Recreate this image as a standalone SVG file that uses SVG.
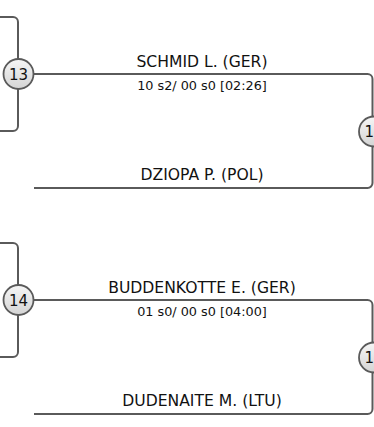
<svg xmlns="http://www.w3.org/2000/svg" width="374" height="427" viewBox="0 0 374 427">
<style>
.ln{fill:none;stroke:#5a5a5a;stroke-width:2}
.nd{fill:url(#g);stroke:#5a5a5a;stroke-width:1.8}
.nt{font-family:"DejaVu Sans",sans-serif;font-size:15px;fill:#111;text-anchor:middle}
.name{font-family:"DejaVu Sans",sans-serif;font-size:15.6px;fill:#111;text-anchor:middle}
.score{font-family:"DejaVu Sans",sans-serif;font-size:12.8px;fill:#111;text-anchor:middle}
</style>
<defs>
<linearGradient id="g" x1="0" y1="0" x2="0" y2="1">
<stop offset="0" stop-color="#f6f6f6"/>
<stop offset="1" stop-color="#d4d4d4"/>
</linearGradient>
</defs>
<g id="connectors">
<path class="ln" d="M-5 17 H13 A5 5 0 0 1 18 22 V126 A5 5 0 0 1 13 131 H-5"/>
<path class="ln" d="M33 74 H367.5 A5 5 0 0 1 372.5 79 V183 A5 5 0 0 1 367.5 188 H34"/>
<path class="ln" d="M-5 243 H13 A5 5 0 0 1 18 248 V352 A5 5 0 0 1 13 357 H-5"/>
<path class="ln" d="M33 300 H367.5 A5 5 0 0 1 372.5 305 V409 A5 5 0 0 1 367.5 414 H34"/>
</g>
<g id="node13">
<circle class="nd" cx="18.5" cy="74" r="15"/>
<text class="nt" x="18.5" y="79.5">13</text>
</g>
<g id="node14">
<circle class="nd" cx="18.5" cy="300" r="15"/>
<text class="nt" x="18.5" y="305.5">14</text>
</g>
<g id="nodeR1">
<circle class="nd" cx="374" cy="131.5" r="15"/>
<text class="nt" x="364.5" y="137" style="text-anchor:start">1</text>
</g>
<g id="nodeR2">
<circle class="nd" cx="374" cy="357.5" r="15"/>
<text class="nt" x="364.5" y="363" style="text-anchor:start">1</text>
</g>
<g id="labels">
<text class="name" x="202" y="66.5">SCHMID L. (GER)</text>
<text class="score" x="202" y="90">10 s2/ 00 s0 [02:26]</text>
<text class="name" x="202" y="180">DZIOPA P. (POL)</text>
<text class="name" x="202" y="292.5">BUDDENKOTTE E. (GER)</text>
<text class="score" x="202" y="316">01 s0/ 00 s0 [04:00]</text>
<text class="name" x="202" y="406">DUDENAITE M. (LTU)</text>
</g>
</svg>
